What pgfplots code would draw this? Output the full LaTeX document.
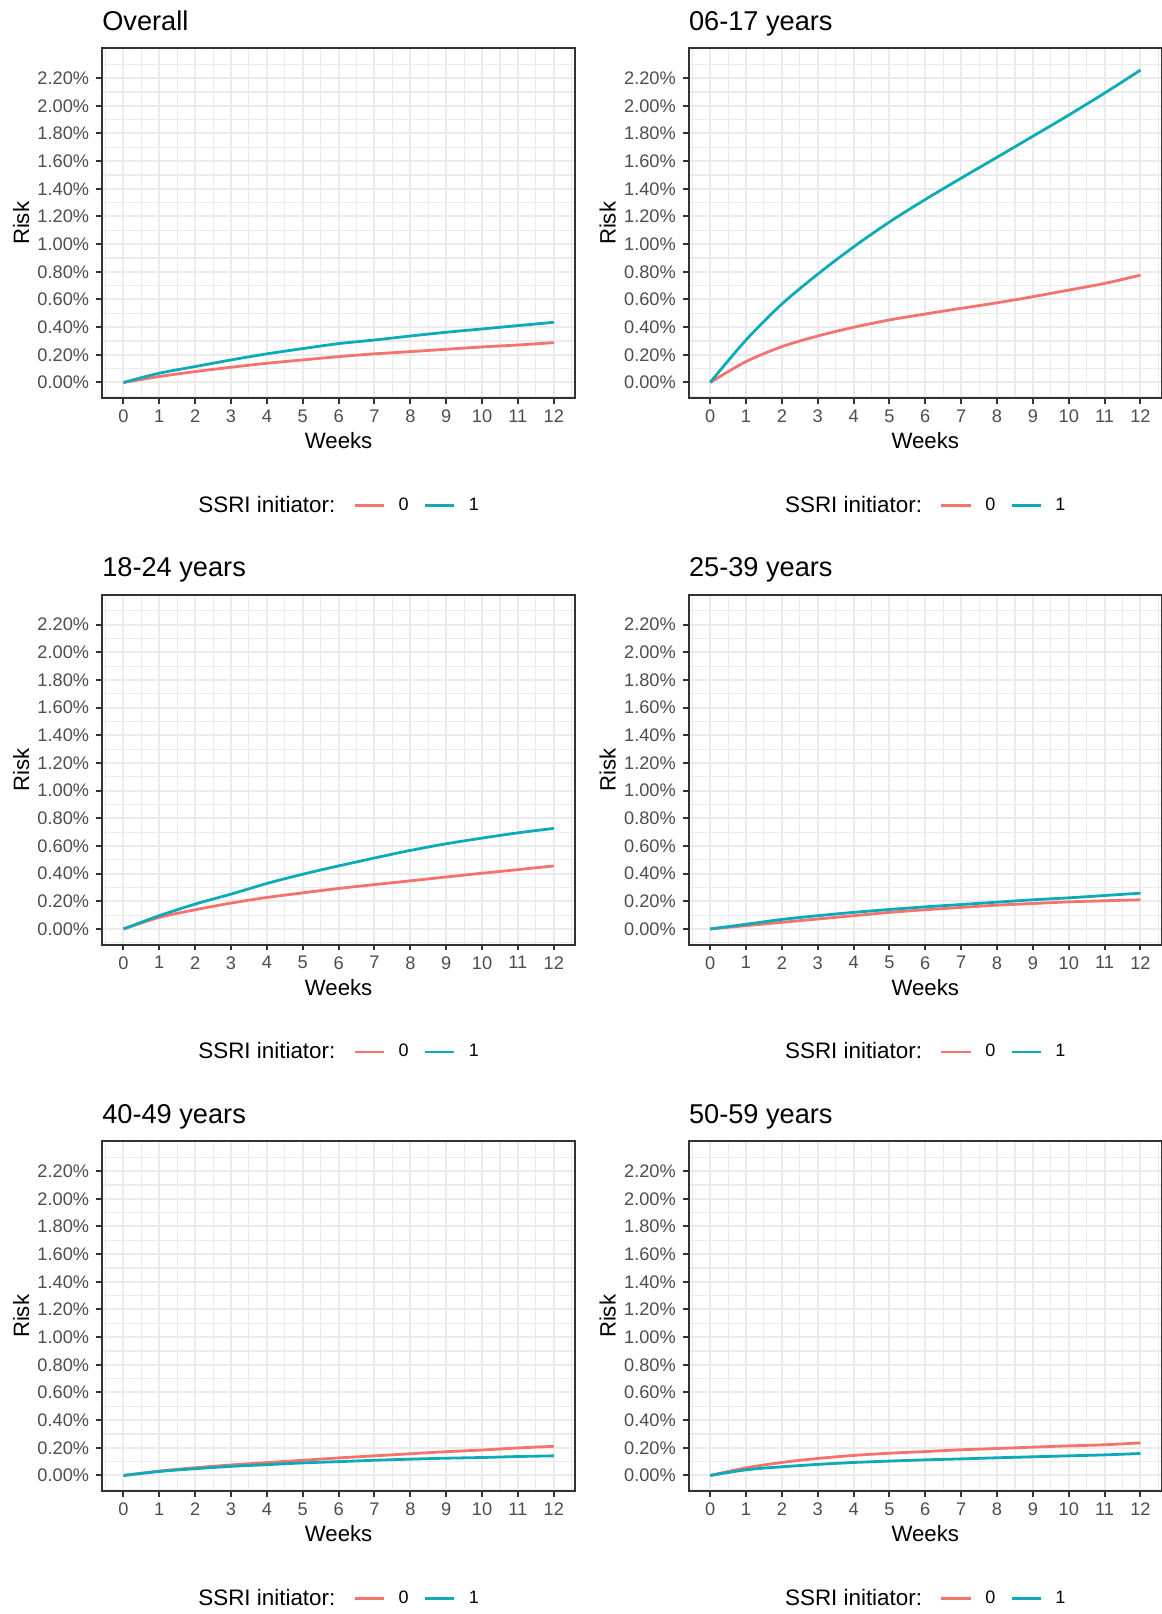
\documentclass[border=0pt]{standalone}
\usepackage{pgfplots}
\pgfplotsset{compat=1.18}
\usepackage{fontspec}
\setmainfont{Liberation Sans}
\definecolor{ggred}{HTML}{F4736C}
\definecolor{ggcyan}{HTML}{0DABB8}
\definecolor{grey92}{HTML}{EBEBEB}
\definecolor{grey20}{HTML}{333333}
\definecolor{grey30}{HTML}{4D4D4D}

\pgfplotsset{
  legend image code/.code={\draw[#1] (0pt,0pt) -- (14.7pt,0pt);},
  panel/.style={
    scale only axis, width=236.7pt, height=175pt, anchor=north west,
    xmin=-0.6, xmax=12.6, ymin=-0.115, ymax=2.415,
    xtick={0,1,2,3,4,5,6,7,8,9,10,11,12},
    ytick={0,0.2,0.4,0.6,0.8,1.0,1.2,1.4,1.6,1.8,2.0,2.2},
    minor xtick={-0.5,0.5,1.5,2.5,3.5,4.5,5.5,6.5,7.5,8.5,9.5,10.5,11.5,12.5},
    minor ytick={-0.1,0.1,0.3,0.5,0.7,0.9,1.1,1.3,1.5,1.7,1.9,2.1,2.3},
    grid=both,
    major grid style={draw=grey92, line width=1pt},
    minor grid style={draw=grey92, line width=0.55pt},
    minor tick length=0pt,
    major tick length=2.8pt,
    tick align=outside,
    tick pos=left,
    tick style={draw=grey20, line width=1pt},
    axis line style={draw=grey20, line width=1pt},
    /pgf/number format/assume math mode=true,
    ticklabel style={font=\fontsize{9.1}{11}\selectfont, text=grey30},
    yticklabel={\pgfmathprintnumber[fixed,fixed zerofill,precision=2]{\tick}\%},
    xticklabel style={anchor=north, inner sep=0pt, yshift=-2.7pt},
    yticklabel style={anchor=east, inner sep=0pt, xshift=-3.4pt},
    xlabel={Weeks}, ylabel={Risk},
    label style={font=\fontsize{11.1}{13}\selectfont},
    xlabel style={at={(0.5,0)}, anchor=base, yshift=-25.1pt, inner sep=0pt},
    ylabel style={at={(-0.1707,0.5)}, anchor=center, inner sep=0pt},
    title style={at={(0,1)}, anchor=base west, yshift=3pt, inner sep=0pt, font=\fontsize{13.6}{16}\selectfont},
    legend columns=-1,
    legend style={at={(0.5,0)}, anchor=center, yshift=-53.55pt, draw=none, fill=none,
      font=\fontsize{9}{11}\selectfont, inner sep=0pt, outer sep=0pt,
      nodes={inner xsep=6.5pt, inner ysep=0pt},
      /tikz/column 2/.style={column sep=2.5pt},
      /tikz/column 4/.style={column sep=1pt}},
    every axis plot/.append style={line width=1.4pt, smooth},
  }
}

\begin{document}
\begin{tikzpicture}
\useasboundingbox (0,0) rectangle (581pt,807pt);

% Overall
\begin{axis}[panel, at={(50.95pt,782.8pt)}, title={Overall}]
\addlegendimage{empty legend}\addlegendentry{\fontsize{11.2}{13}\selectfont SSRI initiator:}
\addplot[ggred] coordinates {(0,0)(1,0.043)(2,0.079)(3,0.110)(4,0.139)(5,0.163)(6,0.187)(7,0.207)(8,0.223)(9,0.240)(10,0.257)(11,0.271)(12,0.288)};
\addlegendentry{0}
\addplot[ggcyan] coordinates {(0,0)(1,0.067)(2,0.115)(3,0.163)(4,0.207)(5,0.245)(6,0.281)(7,0.307)(8,0.336)(9,0.363)(10,0.387)(11,0.411)(12,0.435)};
\addlegendentry{1}
\end{axis}

% 06-17
\begin{axis}[panel, at={(344.3pt,782.8pt)}, title={06-17 years}]
\addlegendimage{empty legend}\addlegendentry{\fontsize{11.2}{13}\selectfont SSRI initiator:}
\addplot[ggred] coordinates {(0,0)(1,0.151)(2,0.259)(3,0.336)(4,0.399)(5,0.452)(6,0.495)(7,0.536)(8,0.576)(9,0.620)(10,0.668)(11,0.716)(12,0.776)};
\addlegendentry{0}
\addplot[ggcyan] coordinates {(0,0)(1,0.307)(2,0.567)(3,0.783)(4,0.980)(5,1.160)(6,1.323)(7,1.477)(8,1.628)(9,1.780)(10,1.933)(11,2.092)(12,2.258)};
\addlegendentry{1}
\end{axis}

% 18-24
\begin{axis}[panel, at={(50.95pt,509.55pt)}, title={18-24 years}]
\addlegendimage{empty legend}\addlegendentry{\fontsize{11.2}{13}\selectfont SSRI initiator:}
\addplot[ggred] coordinates {(0,0)(1,0.084)(2,0.139)(3,0.187)(4,0.228)(5,0.261)(6,0.293)(7,0.321)(8,0.348)(9,0.376)(10,0.403)(11,0.429)(12,0.456)};
\addlegendentry{0}
\addplot[ggcyan] coordinates {(0,0)(1,0.096)(2,0.180)(3,0.252)(4,0.329)(5,0.396)(6,0.456)(7,0.513)(8,0.568)(9,0.616)(10,0.657)(11,0.695)(12,0.727)};
\addlegendentry{1}
\end{axis}

% 25-39
\begin{axis}[panel, at={(344.3pt,509.55pt)}, title={25-39 years}]
\addlegendimage{empty legend}\addlegendentry{\fontsize{11.2}{13}\selectfont SSRI initiator:}
\addplot[ggred] coordinates {(0,0)(1,0.024)(2,0.048)(3,0.072)(4,0.096)(5,0.120)(6,0.139)(7,0.156)(8,0.172)(9,0.184)(10,0.196)(11,0.204)(12,0.211)};
\addlegendentry{0}
\addplot[ggcyan] coordinates {(0,0)(1,0.034)(2,0.069)(3,0.096)(4,0.120)(5,0.141)(6,0.160)(7,0.177)(8,0.194)(9,0.211)(10,0.225)(11,0.242)(12,0.259)};
\addlegendentry{1}
\end{axis}

% 40-49
\begin{axis}[panel, at={(50.95pt,236.3pt)}, title={40-49 years}]
\addlegendimage{empty legend}\addlegendentry{\fontsize{11.2}{13}\selectfont SSRI initiator:}
\addplot[ggred] coordinates {(0,0)(1,0.032)(2,0.056)(3,0.076)(4,0.093)(5,0.110)(6,0.127)(7,0.142)(8,0.157)(9,0.172)(10,0.184)(11,0.199)(12,0.211)};
\addlegendentry{0}
\addplot[ggcyan] coordinates {(0,0)(1,0.029)(2,0.049)(3,0.066)(4,0.078)(5,0.091)(6,0.100)(7,0.110)(8,0.118)(9,0.125)(10,0.130)(11,0.137)(12,0.142)};
\addlegendentry{1}
\end{axis}

% 50-59
\begin{axis}[panel, at={(344.3pt,236.3pt)}, title={50-59 years}]
\addlegendimage{empty legend}\addlegendentry{\fontsize{11.2}{13}\selectfont SSRI initiator:}
\addplot[ggred] coordinates {(0,0)(1,0.055)(2,0.094)(3,0.123)(4,0.145)(5,0.161)(6,0.173)(7,0.186)(8,0.195)(9,0.205)(10,0.214)(11,0.222)(12,0.236)};
\addlegendentry{0}
\addplot[ggcyan] coordinates {(0,0)(1,0.041)(2,0.063)(3,0.080)(4,0.094)(5,0.104)(6,0.113)(7,0.120)(8,0.128)(9,0.135)(10,0.142)(11,0.149)(12,0.159)};
\addlegendentry{1}
\end{axis}
\end{tikzpicture}
\end{document}
